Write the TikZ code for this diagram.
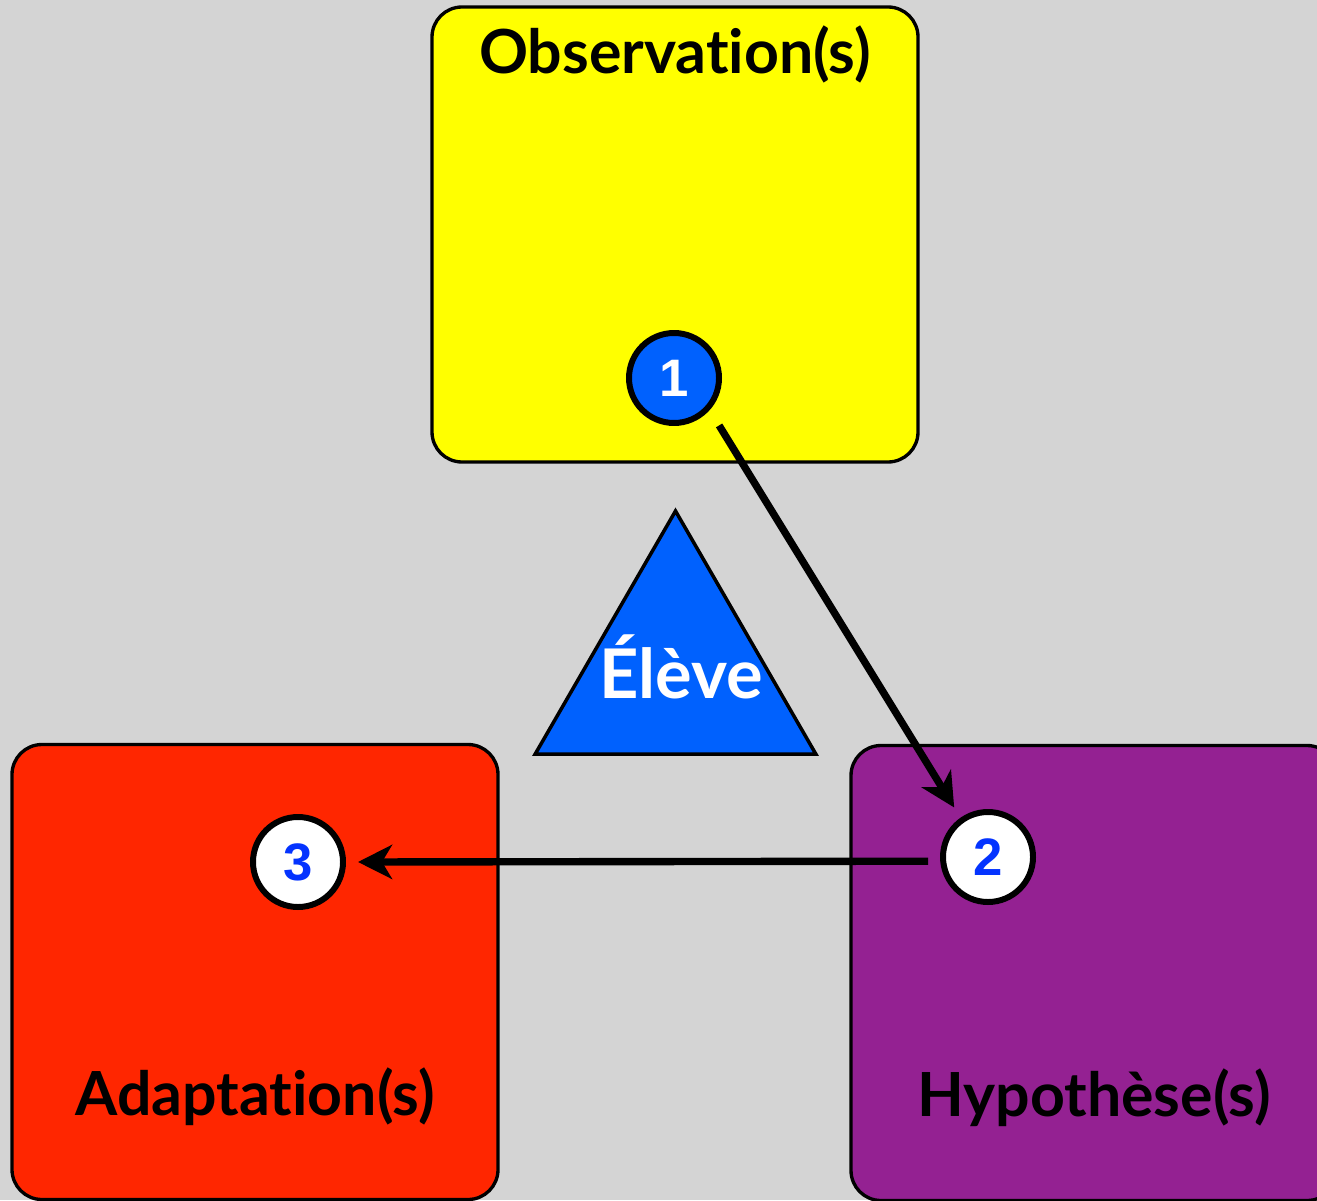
\documentclass[tikz,border=0pt]{standalone}
\usepackage{fontspec}
\setmainfont{Lato}[Ligatures=NoCommon]
\newfontfamily\digitfont{Liberation Sans}
\usetikzlibrary{arrows.meta,positioning,shapes.geometric}

\definecolor{bggray}{HTML}{D4D4D4}
\definecolor{obsyellow}{HTML}{FFFF00}
\definecolor{adared}{HTML}{FF2600}
\definecolor{hyppurple}{HTML}{942192}
\definecolor{eleveblue}{HTML}{0061FE}
\definecolor{numblue}{HTML}{0433FF}

\begin{document}
\begin{tikzpicture}[
    stage/.style={draw, line width=0.95pt, rounded corners=0.3cm, minimum width=4.86cm, minimum height=4.55cm, inner sep=0pt},
    stagename/.style={anchor=base, font=\fontsize{17.3}{20}\selectfont\bfseries},
    bubble/.style={circle, draw, line width=1.7pt, fill=white, minimum size=0.9cm, inner sep=0pt, text=numblue, font=\digitfont\fontsize{15}{18}\selectfont\bfseries},
    link/.style={line width=2.1pt, -{Stealth[length=0.34cm, width=0.34cm, inset=0.1cm]}}
]
\fill[bggray] (0,0) rectangle (13.17,12);
\clip (0,0) rectangle (13.17,12);

% the three stages
\node[stage, fill=obsyellow] (obs) at (6.75,9.655) {};
\node[stage, fill=adared] (ada) at (2.55,2.28) {};
\node[stage, fill=hyppurple] (hyp) at (10.94,2.27) {};
\node[stagename] (obsname) at ([yshift=-0.68cm]obs.north) {Observation(s)};
\node[stagename] (adaname) at ([yshift=0.86cm]ada.south) {Adaptation(s)};
\node[stagename] (hypname) at ([yshift=0.86cm]hyp.south) {Hypothèse(s)};

% pupil in the middle
\node[draw, line width=1pt, fill=eleveblue, regular polygon, regular polygon sides=3, minimum size=3.24cm, inner sep=0pt] (tri) at (6.755,5.27) {};
\node[anchor=base, text=white, font=\fontsize{19.5}{22}\selectfont\bfseries] (eleve) at (6.81,5.02) {Élève};

% steps
\node[bubble, fill=eleveblue, text=white] (one) at (6.74,8.22) {1};
\node[bubble] (two) at (9.88,3.43) {2};
\node[bubble] (three) at (2.98,3.38) {3};

\draw[link, shorten <=0.18cm, shorten >=0.12cm] (one.-42) -- (two.125);
\draw[link, shorten <=0.12cm, shorten >=0.12cm] (two.185) -- (three.east);
\end{tikzpicture}
\end{document}
